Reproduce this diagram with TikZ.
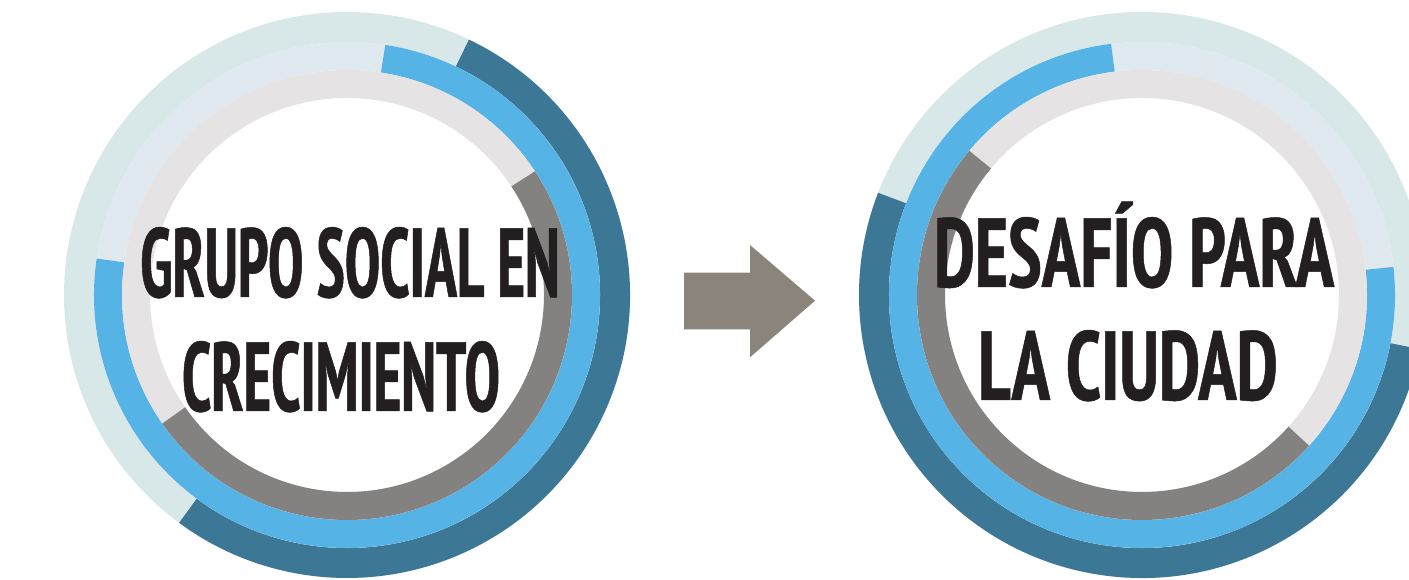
\documentclass[tikz,border=0pt]{standalone}
\usepackage{fontspec}
\newfontfamily\ringfont{PT Sans Narrow Bold}[FakeStretch=0.655, FakeBold=0.5]
\newfontfamily\ringwidefont{PT Sans Narrow Bold}[FakeStretch=0.785, FakeBold=0.5]
\definecolor{ringdark}{HTML}{3D7796}
\definecolor{ringteal}{HTML}{D8E7E7}
\definecolor{ringblue}{HTML}{55B4E5}
\definecolor{ringpale}{HTML}{E0E9EF}
\definecolor{ringgray}{HTML}{838281}
\definecolor{ringlight}{HTML}{E5E3E4}
\definecolor{arrowgray}{HTML}{8A847A}
\definecolor{textdark}{HTML}{231F20}
\begin{document}
\begin{tikzpicture}[x=1pt, y=1pt,
    ringtext/.style={anchor=base, inner sep=0, text=textdark, font=\ringfont\fontsize{98}{98}\selectfont},
    widetext/.style={ringtext, font=\ringwidefont\fontsize{98}{98}\selectfont}]
\useasboundingbox (0,0) rectangle (1409,580);
\coordinate (L) at (347,285);
\coordinate (R) at (1142,285);

% rings: centre/radius/width/base colour/segment colour/start/end
\foreach \c/\r/\w/\base/\seg/\a/\b in {
    L/268/30/ringteal/ringdark/64.5/-126.4,
    L/239/28/ringpale/ringblue/81.3/-188.3,
    L/211/28/ringlight/ringgray/33.4/-145.2,
    R/268/30/ringteal/ringdark/-11/-201.2,
    R/239/28/ringpale/ringblue/97/366.4,
    R/211/28/ringlight/ringgray/140.1/318}
{
    \draw[\base, line width=\w](\c) circle(\r);
    \draw[\seg, line width=\w](\c) ++(\a:\r) arc[start angle=\a, end angle=\b, radius=\r];
}

% arrow
\fill[arrowgray](684,307.3)--(750,307.3)--(750,335)--(815,279.3)--(750,222.7)--(750,250.7)--(684,250.7)--cycle;

\node (grupo) at (350,283)[ringtext]{GRUPO SOCIAL EN};
\node (crec) at (341,169)[ringtext]{CRECIMIENTO};
\node (desafio) at (1134,293)[widetext]{DESAFÍO PARA};
\node (ciudad) at (1128,180)[widetext]{LA CIUDAD};
\end{tikzpicture}
\end{document}
